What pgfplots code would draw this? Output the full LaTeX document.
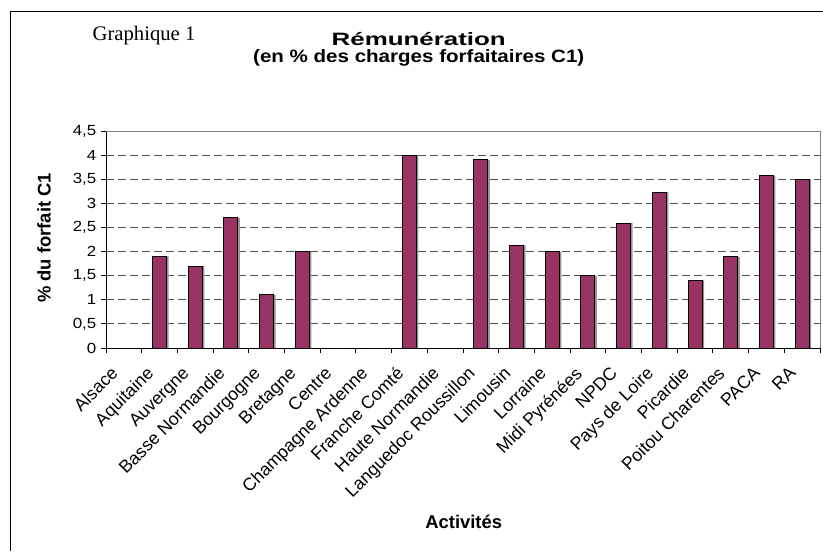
\documentclass[border=0pt]{standalone}
\usepackage{pgfplots}
\pgfplotsset{compat=1.18}
\usepackage{fontspec}
\setmainfont{Liberation Sans}
\newfontfamily\wide[FakeStretch=1.15]{Liberation Sans}
\newfontfamily\wider[FakeStretch=1.45]{Liberation Sans}
\newfontfamily\serif{Liberation Serif}
\definecolor{barcol}{RGB}{153,51,102}
\definecolor{gridcol}{RGB}{80,80,80}
\definecolor{shadowcol}{RGB}{150,150,150}
\begin{document}
\begin{tikzpicture}
\useasboundingbox (0,0) rectangle (617.25pt,413.25pt);
\draw[black, line width=0.75pt] (7.5pt,0) -- (7.5pt,404.25pt) -- (617.25pt,404.25pt);
\node[font=\serif\fontsize{15.5}{18}\selectfont, anchor=base] at (108pt,382.5pt) {Graphique 1};
\begin{axis}[
  name=ax,
  scale only axis,
  width=535.5pt, height=162.75pt,
  at={(79.5pt,152.25pt)}, anchor=south west,
  xmin=-0.5, xmax=19.5, ymin=0, ymax=4.5,
  ytick={0,0.5,...,4.5},
  xtick={-0.5,0.5,...,19.5},
  x tick label as interval,
  xticklabels={Alsace,Aquitaine,Auvergne,Basse Normandie,Bourgogne,Bretagne,Centre,Champagne Ardenne,Franche Comté,Haute Normandie,Languedoc Roussillon,Limousin,Lorraine,Midi Pyrénées,NPDC,Pays de Loire,Picardie,Poitou Charentes,PACA,RA},
  xticklabel style={font=\fontsize{13.3}{15}\selectfont, rotate=45, anchor=north east, inner sep=1pt, xshift=-13pt, yshift=2pt},
  yticklabel style={font=\wide\fontsize{11}{13}\selectfont},
  /pgf/number format/assume math mode=true,
  /pgf/number format/use comma,
  axis x line*=bottom, axis y line*=left,
  axis line style={-, black, line width=0.75pt},
  tick style={black, line width=0.75pt},
  tick align=outside,
  major tick length=3.75pt,
  ymajorgrids,
  major grid style={gridcol, line width=0.75pt, dash pattern=on 6pt off 3pt},
  title={{\wider Rémunération}\\(en \% des charges forfaitaires C1)},
  title style={font=\wide\bfseries\fontsize{13.4}{12.75}\selectfont, align=center, at={(axis description cs:0.438,1.339)}, anchor=center},
  xlabel={Activités},
  xlabel style={font=\bfseries\fontsize{13.8}{15}\selectfont, at={(axis description cs:0.501,-0.802)}, anchor=center},
  ylabel={\% du forfait C1},
  ylabel style={font=\bfseries\fontsize{13.8}{15}\selectfont, at={(axis description cs:-0.0868,0.507)}, anchor=center, rotate=0},
  ybar,
  bar width=10.5pt,
]
\addplot[fill=shadowcol, draw=none, bar shift=1.5pt] coordinates {
(0,0) (1,1.9) (2,1.7) (3,2.7) (4,1.1) (5,2.0) (6,0) (7,0) (8,4.0) (9,0)
(10,3.9) (11,2.13) (12,2.0) (13,1.5) (14,2.59) (15,3.23) (16,1.40) (17,1.89) (18,3.57) (19,3.5)};
\addplot[fill=barcol, draw=black, line width=0.75pt, bar shift=0pt] coordinates {
(0,0) (1,1.9) (2,1.7) (3,2.7) (4,1.1) (5,2.0) (6,0) (7,0) (8,4.0) (9,0)
(10,3.9) (11,2.13) (12,2.0) (13,1.5) (14,2.59) (15,3.23) (16,1.40) (17,1.89) (18,3.57) (19,3.5)};
\end{axis}
\draw[gray, line width=0.75pt] (ax.north west) -- (ax.north east) -- (ax.south east);
\end{tikzpicture}
\end{document}
